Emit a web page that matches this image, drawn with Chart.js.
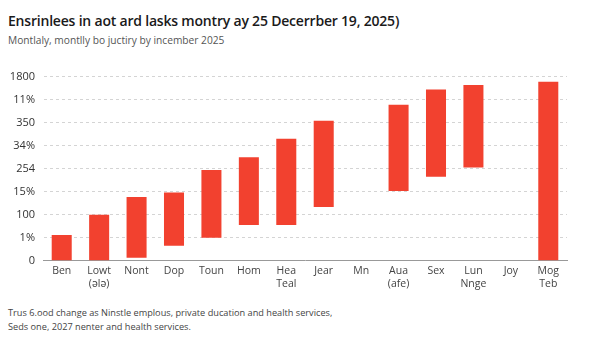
<!DOCTYPE html>
<html lang="en">

<head>
    <meta charset="UTF-8">
    <title>Monthly chart</title>
    <style>
        body {
            margin: 0;
            width: 600px;
            height: 338px;
            background: #fff;
            font-family: "Open Sans", sans-serif;
            position: relative;
            overflow: hidden;
        }

        #title {
            position: absolute;
            left: 8px;
            top: 11px;
            font-size: 14px;
            font-weight: 600;
            letter-spacing: -0.2px;
            color: #1a1a1a;
            white-space: nowrap;
        }

        #subtitle {
            position: absolute;
            left: 8px;
            top: 33px;
            font-size: 10.2px;
            color: #555;
            white-space: nowrap;
        }

        #chartBox {
            position: absolute;
            left: 0;
            top: 62px;
            width: 600px;
            height: 232px;
        }

        #footer {
            position: absolute;
            left: 8px;
            top: 306px;
            font-size: 9.2px;
            line-height: 14px;
            color: #444;
            white-space: nowrap;
        }
    </style>
</head>

<body>
    <div id="title">Ensrinlees in aot ard lasks montry ay 25 Decerrber 19, 2025)</div>
    <div id="subtitle">Montlaly, montlly bo juctiry by incember 2025</div>
    <div id="chartBox"><canvas id="waterfall"></canvas></div>
    <div id="footer">Trus 6.ood change as Ninstle emplous, private ducation and health services,<br>Seds one, 2027 nenter and health services.</div>

    <script src="https://cdn.jsdelivr.net/npm/chart.js"></script>
    <script>
        const months = [
            'Ben', ['Lowt', '(ələ)'], 'Nont', 'Dop', 'Toun', 'Hom', ['Hea', 'Teal'],
            'Jear', 'Mn', ['Aua', '(afe)'], 'Sex', ['Lun', 'Nnge'], 'Joy', ['Mog', 'Teb']
        ];
        // bar start / end, in grid steps
        const barLow = [0, 0, 0.13, 0.65, 1.0, 1.56, 1.56, 2.34, null, 3.03, 3.65, 4.05, null, 0];
        const barHigh = [1.12, 2.0, 2.77, 2.97, 3.94, 4.5, 5.3, 6.08, null, 6.78, 7.44, 7.64, null, 7.78];
        const yLabels = ['0', '1%', '100', '15%', '254', '34%', '350', '11%', '1800'];

        const ranges = barLow.map((lo, i) => lo === null ? null : [lo, barHigh[i]]);

        new Chart(document.getElementById('waterfall'), {
            type: 'bar',
            data: {
                labels: months,
                datasets: [{
                    data: ranges,
                    backgroundColor: '#f2412f',
                    borderWidth: 0,
                    barPercentage: 0.535,
                    categoryPercentage: 1
                }]
            },
            options: {
                responsive: true,
                maintainAspectRatio: false,
                animation: false,
                layout: {
                    padding: { left: 0, right: 33, top: 6, bottom: 0 }
                },
                plugins: {
                    legend: { display: false },
                    tooltip: { enabled: false }
                },
                scales: {
                    x: {
                        grid: { display: false, drawTicks: false },
                        border: { display: true, color: '#999', width: 1 },
                        ticks: {
                            color: '#444',
                            font: { family: 'Open Sans', size: 10.5 },
                            padding: 4,
                            maxRotation: 0,
                            autoSkip: false
                        }
                    },
                    y: {
                        min: 0,
                        max: 8,
                        afterFit: (scale) => { scale.width = 43; },
                        grid: {
                            color: '#d4d4d4',
                            drawTicks: false
                        },
                        border: { display: true, color: 'rgba(0,0,0,0)', dash: [3, 3] },
                        ticks: {
                            stepSize: 1,
                            color: '#333',
                            font: { family: 'Open Sans', size: 11 },
                            padding: 8,
                            callback: (v) => yLabels[v]
                        }
                    }
                }
            }
        });
    </script>
</body>

</html>
